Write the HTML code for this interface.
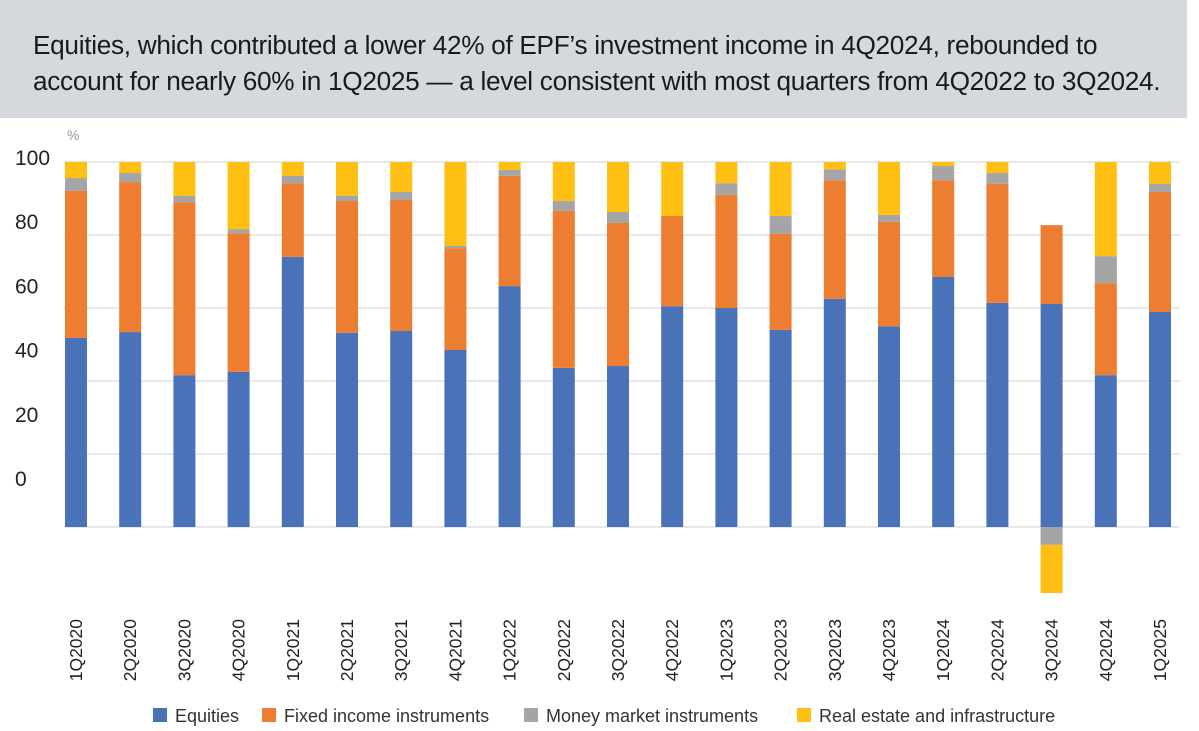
<!DOCTYPE html>
<html><head><meta charset="utf-8"><style>
body{margin:0;width:1199px;height:731px;background:#fff;font-family:"Liberation Sans",sans-serif;overflow:hidden;position:relative}
#title{position:absolute;left:0;top:0;width:1187px;height:118px;background:#d5d8dc}
#title div{position:absolute;left:33px;top:27px;font-size:26.2px;line-height:36px;color:#1a1a1a;letter-spacing:-0.3px;white-space:nowrap}
</style></head><body>
<div id="title"><div>Equities, which contributed a lower 42% of EPF’s investment income in 4Q2024, rebounded to<br>account for nearly 60% in 1Q2025 — a level consistent with most quarters from 4Q2022 to 3Q2024.</div></div>
<svg id="chart" width="1199" height="731" style="position:absolute;left:0;top:0"></svg>
<script>
const categories=["1Q2020","2Q2020","3Q2020","4Q2020","1Q2021","2Q2021","3Q2021","4Q2021","1Q2022","2Q2022","3Q2022","4Q2022","1Q2023","2Q2023","3Q2023","4Q2023","1Q2024","2Q2024","3Q2024","4Q2024","1Q2025"];
const equities=[51.8,53.4,41.6,42.5,74,53.2,53.7,48.5,66,43.6,44.1,60.5,60,54,62.5,55,68.5,61.4,61.1,41.6,58.9];
const fixedIncome=[40.3,41.1,47.4,38,20.2,36.1,35.9,27.9,30.2,43,39.2,24.7,31,26.3,32.5,28.6,26.5,32.6,21.6,25.2,32.9];
const moneyMarket=[3.5,2.5,1.7,1.1,2,1.4,2.2,0.6,1.6,2.7,3,0,3.2,4.9,3,1.9,3.9,3,-4.9,7.4,2.2];
const realEstate=[4.4,3,9.3,18.4,3.8,9.3,8.2,23,2.2,10.7,13.7,14.8,5.8,14.8,2,14.5,1.1,3,-13.2,25.8,6];
const yTicks=[0,20,40,60,80,100];
const yTickLabels=["0","20","40","60","80","100"];
const seriesNames=["Equities","Fixed income instruments","Money market instruments","Real estate and infrastructure"];
const colors=["#4a72b8","#ed7d31","#a5a5a5","#ffc013"];
const NS="http://www.w3.org/2000/svg";
const svg=document.getElementById('chart');
const y=v=>527-v*3.65;
const x=i=>76+i*54.2;
const labY=v=>157+(100-v)/20*64.2+8;
function mk(t,a){const e=document.createElementNS(NS,t);for(const k in a)e.setAttribute(k,a[k]);svg.appendChild(e);return e;}
yTicks.forEach((t,i)=>{
 const g=mk('line',{x1:64,x2:1180,y1:y(t),y2:y(t),stroke:'#d9d9d9','stroke-width':1.2});
 
 
 const lab=mk('text',{x:15,y:labY(t),'font-size':21,fill:'#222'});
 lab.textContent=yTickLabels[i];
 
 
});
const pct=mk('text',{x:67,y:140,'font-size':14,fill:'#999'});pct.textContent='%';


const series=[equities,fixedIncome,moneyMarket,realEstate];
categories.forEach((c,i)=>{
 let pos=0,neg=0;
 series.forEach((s,k)=>{
  const v=s[i];if(!v)return;
  let a,b;
  if(v>=0){a=pos;b=pos+v;pos=b;}else{a=neg;b=neg+v;neg=b;}
  const r=mk('rect',{x:x(i)-11,width:22,y:Math.min(y(a),y(b)),height:Math.abs(y(a)-y(b)),fill:colors[k]});
  
  
 });
 const t=mk('text',{x:0,y:0,'font-size':17.5,fill:'#222','text-anchor':'end',transform:`translate(${x(i)+6},619) rotate(-90)`});
 t.textContent=c;
 
 
});
const lx=[153,262,524,797];
seriesNames.forEach((n,k)=>{
 const r=mk('rect',{x:lx[k],y:708,width:14,height:14,fill:colors[k]});
 
 
 const t=mk('text',{x:lx[k]+22,y:722,'font-size':18,fill:'#333'});t.textContent=n;
 
 
});
</script>
</body></html>
